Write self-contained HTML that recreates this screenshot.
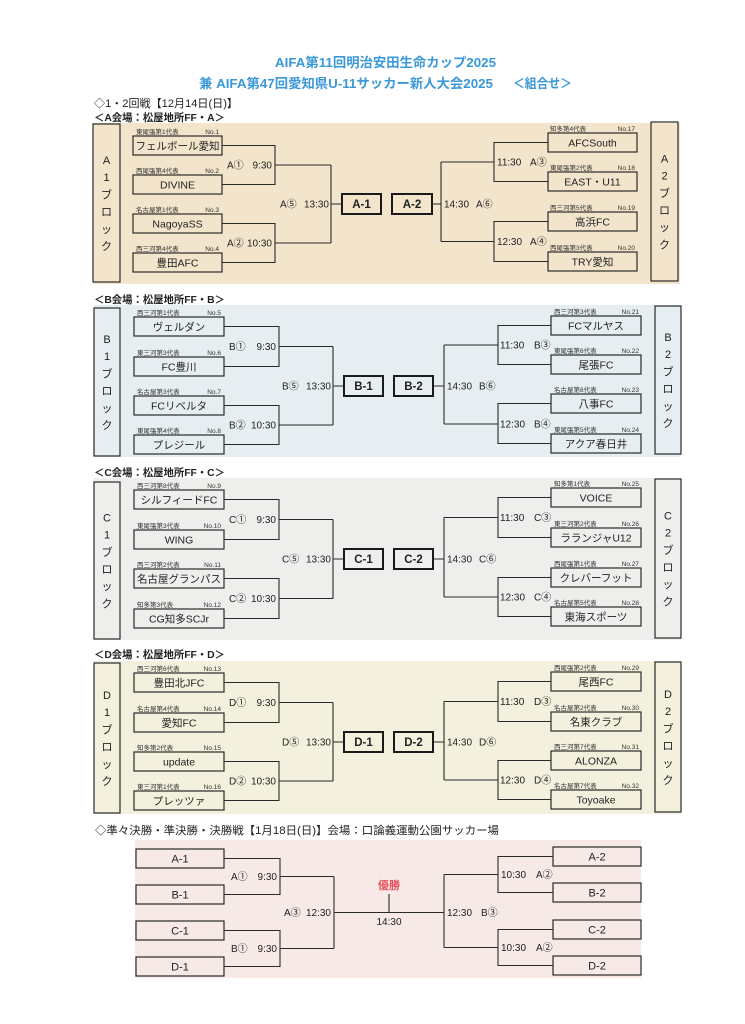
<!DOCTYPE html>
<html lang="ja">
<head>
<meta charset="utf-8">
<title>AIFA第11回明治安田生命カップ2025 組合せ</title>
<style>
  html,body{margin:0;padding:0;background:#fff;}
  body{width:745px;height:1024px;overflow:hidden;}
  svg{display:block;}
  text{font-family:"Liberation Sans","Noto Sans CJK JP",sans-serif;fill:#222;}
  .ttl{font-size:13px;font-weight:bold;fill:#3b98d8;}
  .hd{font-size:11px;fill:#222;}
  .hdb{font-size:10.5px;font-weight:bold;fill:#222;}
  .nm{font-size:10.5px;text-anchor:middle;}
  .lb{font-size:6.5px;fill:#333;}
  .lbr{font-size:6.5px;fill:#333;text-anchor:end;}
  .tm{font-size:10px;}
  .tme{font-size:10px;text-anchor:end;}
  .tmm{font-size:10px;text-anchor:middle;}
  .bk{font-size:11px;text-anchor:middle;}
  .win{font-size:11.5px;font-weight:bold;text-anchor:middle;}
  .fin{font-size:11px;text-anchor:middle;}
  .yu{font-size:11px;font-weight:bold;text-anchor:middle;fill:#e5505a;}
  .bx{fill:none;stroke:#2a2a2a;stroke-width:1.2;}
  .bxw{fill:none;stroke:#1a1a1a;stroke-width:2;}
  .ln{fill:none;stroke:#2a2a2a;stroke-width:1.1;}
</style>
</head>
<body>
<svg width="745" height="1024" viewBox="0 0 745 1024" xmlns="http://www.w3.org/2000/svg">

<!-- Titles -->
<text class="ttl" x="275" y="67" textLength="221" lengthAdjust="spacingAndGlyphs">AIFA第11回明治安田生命カップ2025</text>
<text class="ttl" x="199" y="88" textLength="294" lengthAdjust="spacingAndGlyphs">兼 AIFA第47回愛知県U-11サッカー新人大会2025</text>
<text class="ttl" x="513" y="88" textLength="59" lengthAdjust="spacingAndGlyphs">＜組合せ＞</text>

<text class="hd" x="94" y="107" textLength="144" lengthAdjust="spacingAndGlyphs">◇1・2回戦【12月14日(日)】</text>

<!-- ============ A SECTION ============ -->
<text class="hdb" x="94" y="121" textLength="131" lengthAdjust="spacingAndGlyphs">＜A会場：松屋地所FF・A＞</text>
<rect x="93" y="123" width="587" height="161" fill="#f3e4cc"/>

<!-- blocks -->
<rect class="bx" x="93" y="124" width="27" height="158"/>
<text class="bk" x="106.5" y="164">A</text>
<text class="bk" x="106.5" y="181">1</text>
<text class="bk" x="106.5" y="198.5">ブ</text>
<text class="bk" x="106.5" y="215.5">ロ</text>
<text class="bk" x="106.5" y="233">ッ</text>
<text class="bk" x="106.5" y="250">ク</text>

<rect class="bx" x="651" y="122" width="27" height="159"/>
<text class="bk" x="664.5" y="162.5">A</text>
<text class="bk" x="664.5" y="179.5">2</text>
<text class="bk" x="664.5" y="197">ブ</text>
<text class="bk" x="664.5" y="214">ロ</text>
<text class="bk" x="664.5" y="231">ッ</text>
<text class="bk" x="664.5" y="248.5">ク</text>

<!-- left teams -->
<text class="lb" x="136" y="134">東尾張第1代表</text><text class="lbr" x="219" y="134">No.1</text>
<rect class="bx" x="133" y="136" width="89" height="19"/><text class="nm" x="177.5" y="149.3">フェルボール愛知</text>
<text class="lb" x="136" y="173">西尾張第4代表</text><text class="lbr" x="219" y="173">No.2</text>
<rect class="bx" x="133" y="175" width="89" height="19"/><text class="nm" x="177.5" y="188.3">DIVINE</text>
<text class="lb" x="136" y="212">名古屋第1代表</text><text class="lbr" x="219" y="212">No.3</text>
<rect class="bx" x="133" y="214" width="89" height="19"/><text class="nm" x="177.5" y="227.3">NagoyaSS</text>
<text class="lb" x="136" y="251">西三河第4代表</text><text class="lbr" x="219" y="251">No.4</text>
<rect class="bx" x="133" y="253" width="89" height="19"/><text class="nm" x="177.5" y="266.3">豊田AFC</text>

<!-- right teams -->
<text class="lb" x="550" y="131">知多第4代表</text><text class="lbr" x="635" y="131">No.17</text>
<rect class="bx" x="548" y="133" width="89" height="19"/><text class="nm" x="592.5" y="146.3">AFCSouth</text>
<text class="lb" x="550" y="170">東尾張第2代表</text><text class="lbr" x="635" y="170">No.18</text>
<rect class="bx" x="548" y="172" width="89" height="19"/><text class="nm" x="592.5" y="185.3">EAST・U11</text>
<text class="lb" x="550" y="210">西三河第5代表</text><text class="lbr" x="635" y="210">No.19</text>
<rect class="bx" x="548" y="212" width="89" height="19"/><text class="nm" x="592.5" y="225.3">高浜FC</text>
<text class="lb" x="550" y="250">西尾張第3代表</text><text class="lbr" x="635" y="250">No.20</text>
<rect class="bx" x="548" y="252" width="89" height="19"/><text class="nm" x="592.5" y="265.3">TRY愛知</text>

<!-- bracket lines -->
<path class="ln" d="M222,145.5H275V184.5H222 M275,165H331 M222,223.5H275V262.5H222 M275,243H331 M331,165V243 M331,204H342
M432,204H441 M441,162V241.5 M441,162H494 M441,241.5H494 M548,142.5H494V181.5H548 M548,221.5H494V261.5H548"/>
<rect class="bxw" x="342" y="194" width="39" height="20"/><text class="win" x="361.5" y="208">A-1</text>
<rect class="bxw" x="392" y="194" width="40" height="20"/><text class="win" x="412" y="208">A-2</text>

<text class="tm" x="227" y="168.5">A①</text><text class="tme" x="272" y="168.5">9:30</text>
<text class="tm" x="227" y="246.5">A②</text><text class="tme" x="272" y="246.5">10:30</text>
<text class="tm" x="280" y="207.5">A⑤</text><text class="tme" x="329" y="207.5">13:30</text>
<text class="tm" x="497" y="165.5">11:30</text><text class="tm" x="530" y="165.5">A③</text>
<text class="tm" x="444" y="207.5">14:30</text><text class="tm" x="476" y="207.5">A⑥</text>
<text class="tm" x="497" y="245">12:30</text><text class="tm" x="530" y="245">A④</text>

<!-- ============ B SECTION ============ -->
<text class="hdb" x="94" y="303" textLength="131" lengthAdjust="spacingAndGlyphs">＜B会場：松屋地所FF・B＞</text>
<rect x="94" y="305" width="587" height="152" fill="#e7eef1"/>

<rect class="bx" x="94" y="308" width="26" height="148"/>
<text class="bk" x="107" y="343">B</text>
<text class="bk" x="107" y="360">1</text>
<text class="bk" x="107" y="377.5">ブ</text>
<text class="bk" x="107" y="394.5">ロ</text>
<text class="bk" x="107" y="412">ッ</text>
<text class="bk" x="107" y="429">ク</text>

<rect class="bx" x="655" y="306" width="26" height="148"/>
<text class="bk" x="668" y="341">B</text>
<text class="bk" x="668" y="358">2</text>
<text class="bk" x="668" y="375.5">ブ</text>
<text class="bk" x="668" y="392.5">ロ</text>
<text class="bk" x="668" y="410">ッ</text>
<text class="bk" x="668" y="427">ク</text>

<text class="lb" x="137" y="315">西三河第1代表</text><text class="lbr" x="221" y="315">No.5</text>
<rect class="bx" x="134" y="317" width="90" height="19"/><text class="nm" x="179" y="330.3">ヴェルダン</text>
<text class="lb" x="137" y="355">東三河第3代表</text><text class="lbr" x="221" y="355">No.6</text>
<rect class="bx" x="134" y="357" width="90" height="19"/><text class="nm" x="179" y="370.3">FC豊川</text>
<text class="lb" x="137" y="394">名古屋第3代表</text><text class="lbr" x="221" y="394">No.7</text>
<rect class="bx" x="134" y="396" width="90" height="19"/><text class="nm" x="179" y="409.3">FCリベルタ</text>
<text class="lb" x="137" y="433">東尾張第4代表</text><text class="lbr" x="221" y="433">No.8</text>
<rect class="bx" x="134" y="435" width="90" height="19"/><text class="nm" x="179" y="448.3">プレジール</text>

<text class="lb" x="554" y="314">西三河第3代表</text><text class="lbr" x="639" y="314">No.21</text>
<rect class="bx" x="551" y="316" width="90" height="19"/><text class="nm" x="596" y="329.3">FCマルヤス</text>
<text class="lb" x="554" y="353">東尾張第6代表</text><text class="lbr" x="639" y="353">No.22</text>
<rect class="bx" x="551" y="355" width="90" height="19"/><text class="nm" x="596" y="368.3">尾張FC</text>
<text class="lb" x="554" y="392">名古屋第6代表</text><text class="lbr" x="639" y="392">No.23</text>
<rect class="bx" x="551" y="394" width="90" height="19"/><text class="nm" x="596" y="407.3">八事FC</text>
<text class="lb" x="554" y="432">東尾張第5代表</text><text class="lbr" x="639" y="432">No.24</text>
<rect class="bx" x="551" y="434" width="90" height="19"/><text class="nm" x="596" y="447.3">アクア春日井</text>

<path class="ln" d="M224,326.5H279V366.5H224 M279,346.5H333 M224,405.5H279V444.5H224 M279,425H333 M333,346.5V425 M333,386H344
M433,386H444 M444,345V424 M444,345H498 M444,424H498 M551,325.5H498V364.5H551 M551,403.5H498V443.5H551"/>
<rect class="bxw" x="344" y="376" width="39" height="20"/><text class="win" x="363.5" y="390">B-1</text>
<rect class="bxw" x="394" y="376" width="39" height="20"/><text class="win" x="413.5" y="390">B-2</text>

<text class="tm" x="229" y="350">B①</text><text class="tme" x="276" y="350">9:30</text>
<text class="tm" x="229" y="428.5">B②</text><text class="tme" x="276" y="428.5">10:30</text>
<text class="tm" x="282" y="389.5">B⑤</text><text class="tme" x="331" y="389.5">13:30</text>
<text class="tm" x="500" y="348.5">11:30</text><text class="tm" x="534" y="348.5">B③</text>
<text class="tm" x="447" y="389.5">14:30</text><text class="tm" x="479" y="389.5">B⑥</text>
<text class="tm" x="500" y="427.5">12:30</text><text class="tm" x="534" y="427.5">B④</text>

<!-- ============ C SECTION ============ -->
<text class="hdb" x="94" y="476" textLength="131" lengthAdjust="spacingAndGlyphs">＜C会場：松屋地所FF・C＞</text>
<rect x="94" y="478" width="587" height="162" fill="#eeeeec"/>

<rect class="bx" x="94" y="482" width="26" height="157"/>
<text class="bk" x="107" y="521.5">C</text>
<text class="bk" x="107" y="538.5">1</text>
<text class="bk" x="107" y="556">ブ</text>
<text class="bk" x="107" y="573">ロ</text>
<text class="bk" x="107" y="590">ッ</text>
<text class="bk" x="107" y="607.5">ク</text>

<rect class="bx" x="655" y="479" width="26" height="159"/>
<text class="bk" x="668" y="519.5">C</text>
<text class="bk" x="668" y="536.5">2</text>
<text class="bk" x="668" y="554">ブ</text>
<text class="bk" x="668" y="571">ロ</text>
<text class="bk" x="668" y="588">ッ</text>
<text class="bk" x="668" y="605.5">ク</text>

<text class="lb" x="137" y="488">西三河第8代表</text><text class="lbr" x="221" y="488">No.9</text>
<rect class="bx" x="134" y="490" width="90" height="19"/><text class="nm" x="179" y="503.3">シルフィードFC</text>
<text class="lb" x="137" y="528">東尾張第3代表</text><text class="lbr" x="221" y="528">No.10</text>
<rect class="bx" x="134" y="530" width="90" height="19"/><text class="nm" x="179" y="543.3">WING</text>
<text class="lb" x="137" y="567">西三河第2代表</text><text class="lbr" x="221" y="567">No.11</text>
<rect class="bx" x="134" y="569" width="90" height="19"/><text class="nm" x="179" y="582.3">名古屋グランパス</text>
<text class="lb" x="137" y="607">知多第3代表</text><text class="lbr" x="221" y="607">No.12</text>
<rect class="bx" x="134" y="609" width="90" height="19"/><text class="nm" x="179" y="622.3">CG知多SCJr</text>

<text class="lb" x="554" y="486">知多第1代表</text><text class="lbr" x="639" y="486">No.25</text>
<rect class="bx" x="551" y="488" width="90" height="19"/><text class="nm" x="596" y="501.3">VOICE</text>
<text class="lb" x="554" y="526">東三河第2代表</text><text class="lbr" x="639" y="526">No.26</text>
<rect class="bx" x="551" y="528" width="90" height="19"/><text class="nm" x="596" y="541.3">ラランジャU12</text>
<text class="lb" x="554" y="566">西尾張第1代表</text><text class="lbr" x="639" y="566">No.27</text>
<rect class="bx" x="551" y="568" width="90" height="19"/><text class="nm" x="596" y="581.3">クレバーフット</text>
<text class="lb" x="554" y="605">名古屋第5代表</text><text class="lbr" x="639" y="605">No.28</text>
<rect class="bx" x="551" y="607" width="90" height="19"/><text class="nm" x="596" y="620.3">東海スポーツ</text>

<path class="ln" d="M224,499.5H279V539.5H224 M279,519.5H333 M224,578.5H279V618.5H224 M279,598.5H333 M333,519.5V598.5 M333,559H344
M433,559H444 M444,517.5V597 M444,517.5H498 M444,597H498 M551,497.5H498V537.5H551 M551,577.5H498V616.5H551"/>
<rect class="bxw" x="344" y="549" width="39" height="20"/><text class="win" x="363.5" y="563">C-1</text>
<rect class="bxw" x="394" y="549" width="39" height="20"/><text class="win" x="413.5" y="563">C-2</text>

<text class="tm" x="229" y="523">C①</text><text class="tme" x="276" y="523">9:30</text>
<text class="tm" x="229" y="602">C②</text><text class="tme" x="276" y="602">10:30</text>
<text class="tm" x="282" y="562.5">C⑤</text><text class="tme" x="331" y="562.5">13:30</text>
<text class="tm" x="500" y="521">11:30</text><text class="tm" x="534" y="521">C③</text>
<text class="tm" x="447" y="562.5">14:30</text><text class="tm" x="479" y="562.5">C⑥</text>
<text class="tm" x="500" y="600.5">12:30</text><text class="tm" x="534" y="600.5">C④</text>

<!-- ============ D SECTION ============ -->
<text class="hdb" x="94" y="658" textLength="131" lengthAdjust="spacingAndGlyphs">＜D会場：松屋地所FF・D＞</text>
<rect x="94" y="661" width="587" height="153" fill="#f3f0dd"/>

<rect class="bx" x="94" y="663" width="26" height="150"/>
<text class="bk" x="107" y="699">D</text>
<text class="bk" x="107" y="716">1</text>
<text class="bk" x="107" y="733.5">ブ</text>
<text class="bk" x="107" y="750.5">ロ</text>
<text class="bk" x="107" y="768">ッ</text>
<text class="bk" x="107" y="785">ク</text>

<rect class="bx" x="655" y="662" width="26" height="150"/>
<text class="bk" x="668" y="698">D</text>
<text class="bk" x="668" y="715">2</text>
<text class="bk" x="668" y="732.5">ブ</text>
<text class="bk" x="668" y="749.5">ロ</text>
<text class="bk" x="668" y="767">ッ</text>
<text class="bk" x="668" y="784">ク</text>

<text class="lb" x="137" y="671">西三河第6代表</text><text class="lbr" x="221" y="671">No.13</text>
<rect class="bx" x="134" y="673" width="90" height="19"/><text class="nm" x="179" y="686.3">豊田北JFC</text>
<text class="lb" x="137" y="711">名古屋第4代表</text><text class="lbr" x="221" y="711">No.14</text>
<rect class="bx" x="134" y="713" width="90" height="19"/><text class="nm" x="179" y="726.3">愛知FC</text>
<text class="lb" x="137" y="750">知多第2代表</text><text class="lbr" x="221" y="750">No.15</text>
<rect class="bx" x="134" y="752" width="90" height="19"/><text class="nm" x="179" y="765.3">update</text>
<text class="lb" x="137" y="789">東三河第1代表</text><text class="lbr" x="221" y="789">No.16</text>
<rect class="bx" x="134" y="791" width="90" height="19"/><text class="nm" x="179" y="804.3">プレッツァ</text>

<text class="lb" x="554" y="670">西尾張第2代表</text><text class="lbr" x="639" y="670">No.29</text>
<rect class="bx" x="551" y="672" width="90" height="19"/><text class="nm" x="596" y="685.3">尾西FC</text>
<text class="lb" x="554" y="710">名古屋第2代表</text><text class="lbr" x="639" y="710">No.30</text>
<rect class="bx" x="551" y="712" width="90" height="19"/><text class="nm" x="596" y="725.3">名東クラブ</text>
<text class="lb" x="554" y="749">西三河第7代表</text><text class="lbr" x="639" y="749">No.31</text>
<rect class="bx" x="551" y="751" width="90" height="19"/><text class="nm" x="596" y="764.3">ALONZA</text>
<text class="lb" x="554" y="788">名古屋第7代表</text><text class="lbr" x="639" y="788">No.32</text>
<rect class="bx" x="551" y="790" width="90" height="19"/><text class="nm" x="596" y="803.3">Toyoake</text>

<path class="ln" d="M224,682.5H279V722.5H224 M279,702.5H333 M224,761.5H279V800.5H224 M279,781H333 M333,702.5V781 M333,742H344
M433,742H444 M444,701.5V780 M444,701.5H498 M444,780H498 M551,681.5H498V721.5H551 M551,760.5H498V799.5H551"/>
<rect class="bxw" x="344" y="732" width="39" height="20"/><text class="win" x="363.5" y="746">D-1</text>
<rect class="bxw" x="394" y="732" width="39" height="20"/><text class="win" x="413.5" y="746">D-2</text>

<text class="tm" x="229" y="706">D①</text><text class="tme" x="276" y="706">9:30</text>
<text class="tm" x="229" y="784.5">D②</text><text class="tme" x="276" y="784.5">10:30</text>
<text class="tm" x="282" y="745.5">D⑤</text><text class="tme" x="331" y="745.5">13:30</text>
<text class="tm" x="500" y="705">11:30</text><text class="tm" x="534" y="705">D③</text>
<text class="tm" x="447" y="745.5">14:30</text><text class="tm" x="479" y="745.5">D⑥</text>
<text class="tm" x="500" y="783.5">12:30</text><text class="tm" x="534" y="783.5">D④</text>

<!-- ============ FINALS ============ -->
<text class="hd" x="95" y="834" textLength="404" lengthAdjust="spacingAndGlyphs">◇準々決勝・準決勝・決勝戦【1月18日(日)】会場：口論義運動公園サッカー場</text>
<rect x="135" y="840" width="506" height="138" fill="#f6e9e6"/>

<rect class="bx" x="136" y="849" width="88" height="19"/><text class="fin" x="180" y="862.5">A-1</text>
<rect class="bx" x="136" y="885" width="88" height="19"/><text class="fin" x="180" y="898.5">B-1</text>
<rect class="bx" x="136" y="921" width="88" height="19"/><text class="fin" x="180" y="934.5">C-1</text>
<rect class="bx" x="136" y="957" width="88" height="19"/><text class="fin" x="180" y="970.5">D-1</text>

<rect class="bx" x="553" y="847" width="88" height="19"/><text class="fin" x="597" y="860.5">A-2</text>
<rect class="bx" x="553" y="883" width="88" height="19"/><text class="fin" x="597" y="896.5">B-2</text>
<rect class="bx" x="553" y="920" width="88" height="19"/><text class="fin" x="597" y="933.5">C-2</text>
<rect class="bx" x="553" y="956" width="88" height="19"/><text class="fin" x="597" y="969.5">D-2</text>

<path class="ln" d="M224,858.5H280V894.5H224 M280,876.5H334 M224,930.5H280V966.5H224 M280,948.5H334 M334,876.5V948.5 M334,912.5H444 M389,894V912.5
M444,874.5V947.5 M444,874.5H498 M444,947.5H498 M553,856.5H498V892.5H553 M553,929.5H498V965.5H553"/>

<text class="tm" x="231" y="880">A①</text><text class="tme" x="277" y="880">9:30</text>
<text class="tm" x="231" y="952">B①</text><text class="tme" x="277" y="952">9:30</text>
<text class="tm" x="284" y="916">A③</text><text class="tme" x="331" y="916">12:30</text>
<text class="yu" x="389" y="889">優勝</text>
<text class="tmm" x="389" y="925">14:30</text>
<text class="tm" x="447" y="916">12:30</text><text class="tm" x="481" y="916">B③</text>
<text class="tm" x="501" y="878">10:30</text><text class="tm" x="536" y="878">A②</text>
<text class="tm" x="501" y="951">10:30</text><text class="tm" x="536" y="951">A②</text>

</svg>
</body>
</html>
